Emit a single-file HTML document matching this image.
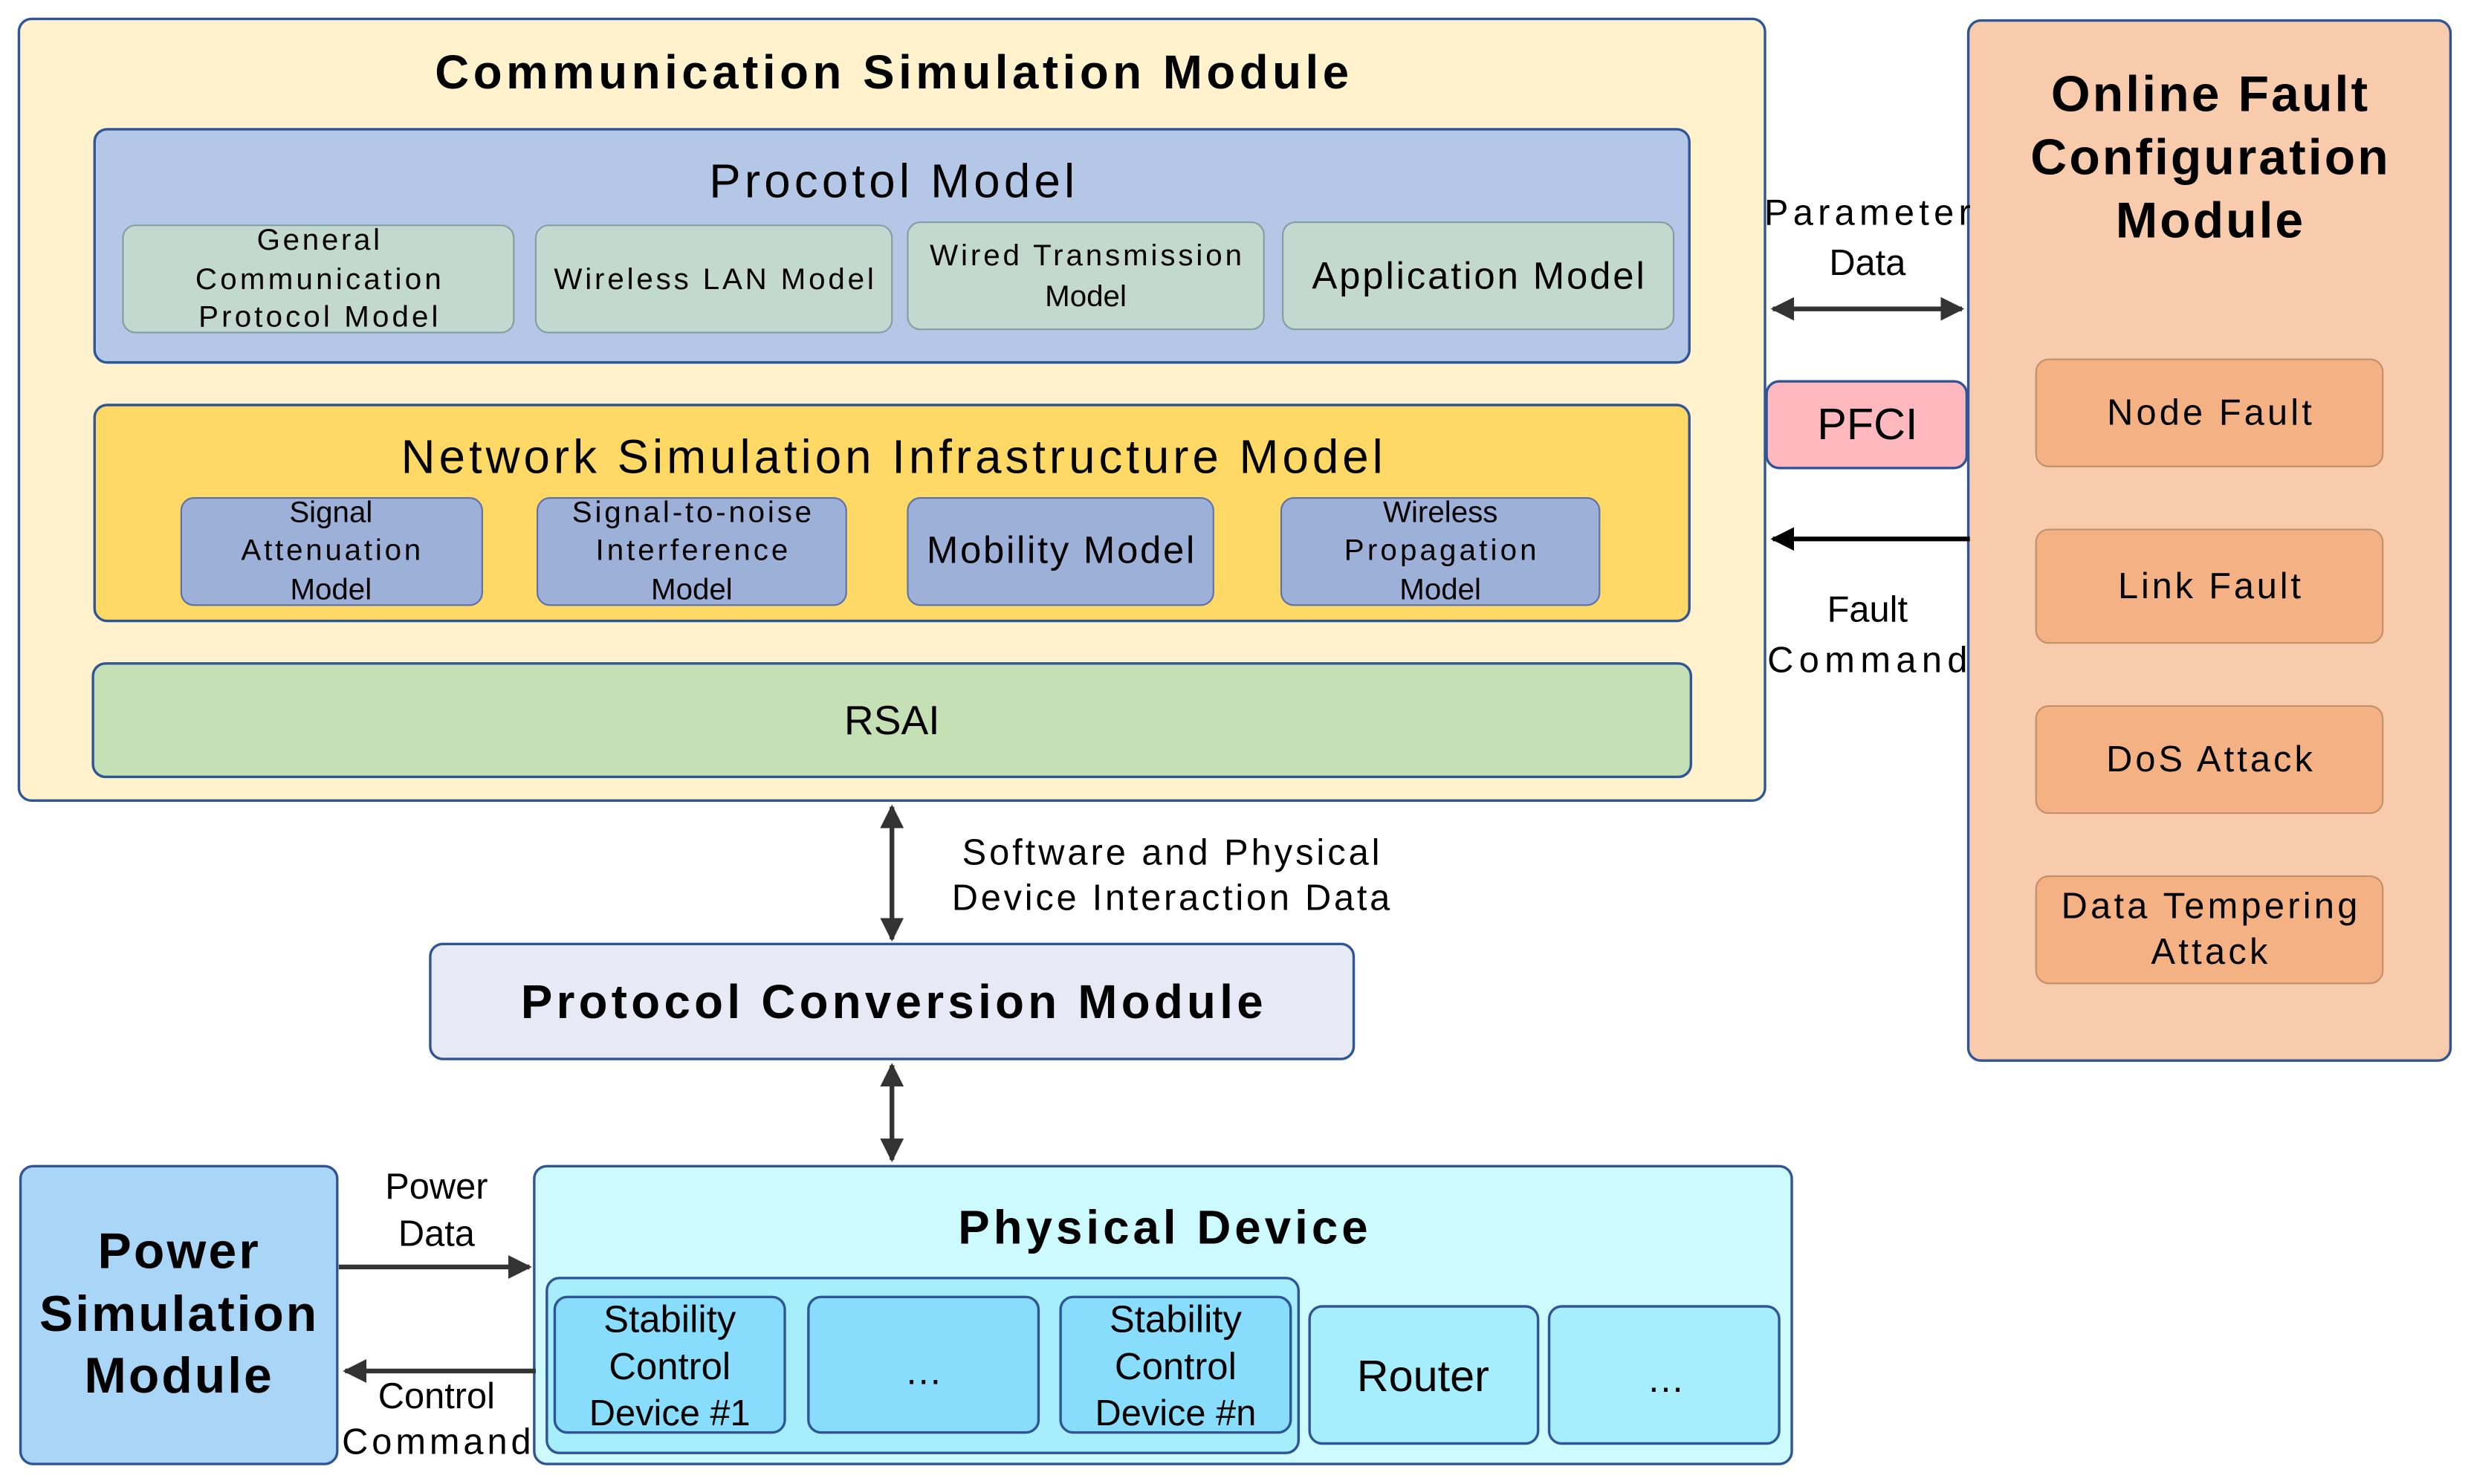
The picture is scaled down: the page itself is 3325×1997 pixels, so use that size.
<!DOCTYPE html>
<html><head><meta charset="utf-8"><style>
html,body{margin:0;padding:0;background:#fff;}
svg{display:block;}
text{font-family:"Liberation Sans","DejaVu Sans",sans-serif;fill:#000;text-anchor:middle;dominant-baseline:central;}
.b{font-weight:bold;}
</style></head><body>
<svg width="3325" height="1997" viewBox="0 0 1568 941.7" preserveAspectRatio="none" xmlns="http://www.w3.org/2000/svg">
<defs>
<marker id="ah" viewBox="0 0 10 10" refX="9" refY="5" markerWidth="5" markerHeight="5" orient="auto-start-reverse"><path d="M0,0 L10,5 L0,10 z" fill="#333"/></marker>
<marker id="ahk" viewBox="0 0 10 10" refX="9" refY="5" markerWidth="5" markerHeight="5" orient="auto-start-reverse"><path d="M0,0 L10,5 L0,10 z" fill="#000"/></marker>
</defs>
<g stroke="#2F5597" stroke-width="1.6">
<rect x="12" y="12" width="1108" height="496" rx="8" fill="#FFF2CC"/>
<rect x="60" y="82" width="1012" height="148" rx="8" fill="#B4C7E7"/>
<g fill="#C3D8CE" stroke="#7F9FA0" stroke-width="1">
<rect x="78" y="143" width="248" height="68" rx="8"/>
<rect x="340" y="143" width="226" height="68" rx="8"/>
<rect x="576" y="141" width="226" height="68" rx="8"/>
<rect x="814" y="141" width="248" height="68" rx="8"/>
</g>
<rect x="60" y="257" width="1012" height="137" rx="8" fill="#FFD966"/>
<g fill="#9DB0D8" stroke="#5B6FA8" stroke-width="1">
<rect x="115" y="316" width="191" height="68" rx="8"/>
<rect x="341" y="316" width="196" height="68" rx="8"/>
<rect x="576" y="316" width="194" height="68" rx="8"/>
<rect x="813" y="316" width="202" height="68" rx="8"/>
</g>
<rect x="59" y="421" width="1014" height="72" rx="8" fill="#C5E0B4"/>
<rect x="1249" y="13" width="306" height="660" rx="8" fill="#F8CBAD"/>
<g fill="#F4B183" stroke="#C0906A" stroke-width="1">
<rect x="1292" y="228" width="220" height="68" rx="8"/>
<rect x="1292" y="336" width="220" height="72" rx="8"/>
<rect x="1292" y="448" width="220" height="68" rx="8"/>
<rect x="1292" y="556" width="220" height="68" rx="8"/>
</g>
<rect x="1121" y="242" width="127" height="55" rx="8" fill="#FFB9BE"/>
<rect x="273" y="599" width="586" height="73" rx="8" fill="#E7E9F5"/>
<rect x="13" y="740" width="201" height="189" rx="8" fill="#A9D5F7"/>
<rect x="339" y="740" width="798" height="189" rx="8" fill="#CCFAFF"/>
<rect x="347" y="811" width="477" height="111" rx="8" fill="#A6EEFB"/>
<g fill="#87DDFB">
<rect x="352" y="823" width="146" height="86" rx="8"/>
<rect x="513" y="823" width="146" height="86" rx="8"/>
<rect x="673" y="823" width="146" height="86" rx="8"/>
</g>
<g fill="#A6EEFB">
<rect x="831" y="829" width="145" height="87" rx="8"/>
<rect x="983" y="829" width="146" height="87" rx="8"/>
</g>
</g>
<g stroke="#333" stroke-width="3" fill="none">
<line x1="1125" y1="196" x2="1245" y2="196" marker-start="url(#ah)" marker-end="url(#ah)"/>
<line x1="1250" y1="342" x2="1125" y2="342" stroke="#000" marker-end="url(#ahk)"/>
<line x1="566" y1="512" x2="566" y2="596" marker-start="url(#ah)" marker-end="url(#ah)"/>
<line x1="566" y1="676" x2="566" y2="736" marker-start="url(#ah)" marker-end="url(#ah)"/>
<line x1="215" y1="804" x2="336" y2="804" marker-end="url(#ah)"/>
<line x1="340" y1="870" x2="219" y2="870" marker-end="url(#ah)"/>
</g>
<text x="566" y="46" class="b" font-size="30" textLength="580" lengthAdjust="spacing">Communication Simulation Module</text>
<text x="566" y="115" font-size="30" textLength="232" lengthAdjust="spacing">Procotol Model</text>
<g font-size="19">
<text x="202" y="152" textLength="78" lengthAdjust="spacing">General</text><text x="202" y="177" textLength="156" lengthAdjust="spacing">Communication</text><text x="202" y="201" textLength="152" lengthAdjust="spacing">Protocol Model</text>
<text x="453" y="177" textLength="203" lengthAdjust="spacing">Wireless LAN Model</text>
<text x="689" y="162" textLength="198" lengthAdjust="spacing">Wired Transmission</text><text x="689" y="188">Model</text>
</g>
<text x="938" y="175" font-size="24" textLength="211" lengthAdjust="spacing">Application Model</text>
<text x="566" y="290" font-size="30" textLength="623" lengthAdjust="spacing">Network Simulation Infrastructure Model</text>
<g font-size="19">
<text x="210" y="325">Signal</text><text x="210" y="349" textLength="114" lengthAdjust="spacing">Attenuation</text><text x="210" y="374">Model</text>
<text x="439" y="325" textLength="152" lengthAdjust="spacing">Signal-to-noise</text><text x="439" y="349" textLength="122" lengthAdjust="spacing">Interference</text><text x="439" y="374">Model</text>
<text x="914" y="325">Wireless</text><text x="914" y="349" textLength="122" lengthAdjust="spacing">Propagation</text><text x="914" y="374">Model</text>
</g>
<text x="673" y="349" font-size="24" textLength="170" lengthAdjust="spacing">Mobility Model</text>
<text x="566" y="457" font-size="26">RSAI</text>
<g class="b" font-size="32">
<text x="1402" y="60" textLength="201" lengthAdjust="spacing">Online Fault</text><text x="1402" y="100" textLength="227" lengthAdjust="spacing">Configuration</text><text x="1402" y="140" textLength="119" lengthAdjust="spacing">Module</text>
</g>
<g font-size="23">
<text x="1402" y="262" textLength="130" lengthAdjust="spacing">Node Fault</text>
<text x="1402" y="372" textLength="116" lengthAdjust="spacing">Link Fault</text>
<text x="1402" y="482" textLength="131" lengthAdjust="spacing">DoS Attack</text>
<text x="1402" y="575" textLength="188" lengthAdjust="spacing">Data Tempering</text><text x="1402" y="604" textLength="74" lengthAdjust="spacing">Attack</text>
<text x="1185" y="135" textLength="131" lengthAdjust="spacing">Parameter</text><text x="1185" y="167">Data</text>
<text x="1185" y="387">Fault</text><text x="1185" y="419" textLength="127" lengthAdjust="spacing">Command</text>
<text x="743" y="541" textLength="265" lengthAdjust="spacing">Software and Physical</text><text x="743" y="570" textLength="278" lengthAdjust="spacing">Device Interaction Data</text>
<text x="277" y="753">Power</text><text x="277" y="783">Data</text>
<text x="277" y="886">Control</text><text x="277" y="915" textLength="120" lengthAdjust="spacing">Command</text>
</g>
<text x="1185" y="269" font-size="28">PFCI</text>
<text x="566" y="636" class="b" font-size="30" textLength="471" lengthAdjust="spacing">Protocol Conversion Module</text>
<g class="b" font-size="32">
<text x="113" y="794" textLength="102" lengthAdjust="spacing">Power</text><text x="113" y="834" textLength="176" lengthAdjust="spacing">Simulation</text><text x="113" y="873" textLength="119" lengthAdjust="spacing">Module</text>
</g>
<text x="738" y="779" class="b" font-size="30" textLength="260" lengthAdjust="spacing">Physical Device</text>
<g font-size="24">
<text x="425" y="837">Stability</text><text x="425" y="867">Control</text><text x="425" y="897" font-size="23">Device #1</text>
<text x="586" y="870">…</text>
<text x="746" y="837">Stability</text><text x="746" y="867">Control</text><text x="746" y="897" font-size="23">Device #n</text>
<text x="1057" y="875">…</text>
</g>
<text x="903" y="873" font-size="28">Router</text>
</svg>
</body></html>
